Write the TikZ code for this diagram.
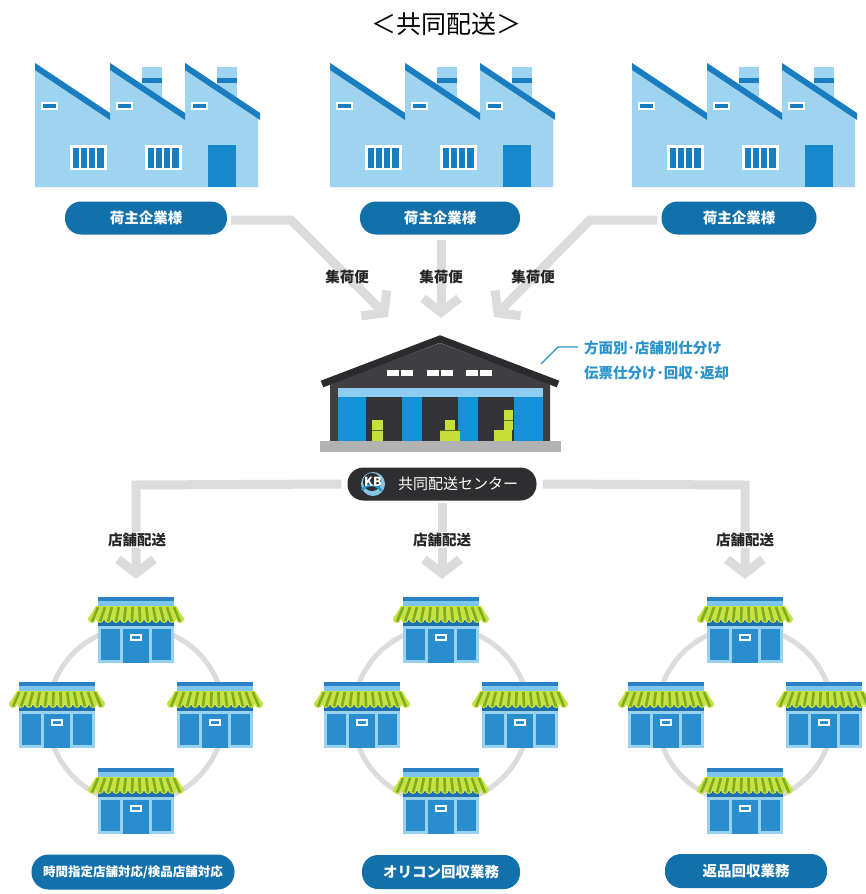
\documentclass[tikz,border=0pt]{standalone}
\usepackage{fontspec}
\setmainfont{Noto Sans CJK JP}
\usetikzlibrary{arrows.meta}

\definecolor{factorylight}{HTML}{9FD4F0}
\definecolor{factorydark}{HTML}{1A7DBF}
\definecolor{factorydoor}{HTML}{1789CB}
\definecolor{pillblue}{HTML}{1271AB}
\definecolor{linegray}{HTML}{DCDCDC}
\definecolor{whroof}{HTML}{2B2B2D}
\definecolor{whbody}{HTML}{3F3F42}
\definecolor{whopen}{HTML}{333335}
\definecolor{whbase}{HTML}{B2B2B2}
\definecolor{whpillar}{HTML}{1391D9}
\definecolor{whband}{HTML}{8DCDF0}
\definecolor{boxgreen}{HTML}{C6DF3A}
\definecolor{calloutblue}{HTML}{2A93CC}
\definecolor{darkpill}{HTML}{2E2E30}
\definecolor{storeroof}{HTML}{2A82C4}
\definecolor{storerooflight}{HTML}{7FC6EE}
\definecolor{awninglight}{HTML}{C8E242}
\definecolor{awningdark}{HTML}{80AC22}
\definecolor{storeband}{HTML}{1E6FAE}
\definecolor{storeframe}{HTML}{98D2F1}
\definecolor{storepanel}{HTML}{2A8DCE}

\tikzset{
  pill/.style={rounded corners=16pt, fill=pillblue, text=white, minimum height=33pt,
    inner sep=0pt, font=\fontsize{14.5}{16}\selectfont\bfseries},
  lbl/.style={text=black!85, inner sep=1pt, font=\fontsize{14.5}{16}\selectfont\bfseries},
  callout/.style={anchor=west, text=calloutblue, inner sep=0pt, font=\fontsize{14.5}{16}\selectfont\bfseries},
  flow/.style={draw=linegray, line width=9pt, line join=miter,
    -{Straight Barb[length=14pt,width=36pt]}},
  ring/.style={draw=linegray, line width=5pt},
  factory/.pic={
    % chimneys behind the roof line
    \foreach \s in {75,150}{
      \fill[factorylight] (\s+32,4) rectangle (\s+52,45);
      \fill[factorydark] (\s+32,15) rectangle (\s+52,20);
    }
    % sawtooth body
    \fill[factorylight] (0,0) -- (75,50) -- (75,0) -- (150,50) -- (150,0) -- (223,50)
      -- (223,124) -- (0,124) -- cycle;
    % roof stripes and small vents
    \foreach \s in {0,75,150}{
      \fill[factorydark] (\s,0) -- (\s+75,50) -- (\s+75,57) -- (\s,7) -- cycle;
      \fill[white] (\s+6,38.5) rectangle (\s+23,46.5);
      \fill[factorydark] (\s+8,40.5) rectangle (\s+21,44.5);
    }
    % windows
    \foreach \w in {35,110}{
      \fill[white] (\w,82) rectangle (\w+37,107);
      \foreach \i in {0,...,3}
        \fill[factorydark] (\w+2.5+\i*8.3,84.5) rectangle ++(6.3,20);
    }
    % door
    \fill[factorydoor] (173,82) rectangle (201,124);
  },
  store/.pic={
    \fill[storeroof] (-38,0) rectangle (38,4);
    \fill[storerooflight] (-38,4) rectangle (38,9);
    \fill[storeband] (-38,23) rectangle (38,29);
    % striped awning with scalloped edge
    \fill[awninglight] (-40,9) -- (40,9) -- (48,22) -- (-48,22) -- cycle;
    \foreach \x in {-44,-36,...,44}
      \fill[awninglight] (\x,22) circle (4);
    \foreach \x in {-44,-36,...,44}
      \draw[awningdark, line width=2.6pt] (\x*0.86,10) -- (\x,24.5);
    \fill[storeframe] (-38,29) rectangle (38,66);
    \fill[storepanel] (-35,32) rectangle (-16,63);
    \fill[storepanel] (16,32) rectangle (35,63);
    \fill[storepanel] (-13,32) rectangle (13,66);
    \fill[white] (-6,37) rectangle (6,44);
    \fill[storepanel] (-4,39) rectangle (4,42);
  },
  cluster/.pic={
    \draw[ring] (0,0) circle (88);
    \pic at (0,-118) {store};
    \pic at (-79,-33) {store};
    \pic at (79,-33) {store};
    \pic at (0,53) {store};
  }
}

\begin{document}
\begin{tikzpicture}[x=1pt, y=-1pt]
\useasboundingbox (0,0) rectangle (865,894);
\fill[white] (0,0) rectangle (865,894);

% title
\node[font=\fontsize{25}{28}\selectfont] (title) at (446,24) {＜共同配送＞};

% shipper factories
\pic at (35,63) {factory};
\pic at (330,63) {factory};
\pic at (632,63) {factory};
\node[pill, minimum width=162pt] (s1) at (146,218) {荷主企業様};
\node[pill, minimum width=160pt] (s2) at (440,218) {荷主企業様};
\node[pill, minimum width=155pt] (s3) at (739,218) {荷主企業様};

% pickup flows into the centre
\coordinate (b1) at (291,220);
\coordinate (t1) at (388,317);
\coordinate (t2) at (441,318);
\coordinate (b3) at (590,220);
\coordinate (t3) at (494,317);
\draw[flow] ([xshift=4pt]s1.east |- b1) -- (b1) -- (t1);
\draw[flow] ([yshift=-5pt]s2.south -| t2) -- (t2);
\draw[flow] ([xshift=-4pt]s3.west |- b3) -- (b3) -- (t3);
\node[lbl] (c1) at (347,277) {集荷便};
\node[lbl] (c2) at (441,277) {集荷便};
\node[lbl] (c3) at (533,277) {集荷便};

% distribution warehouse
\fill[whbody] (330,384) -- (440,343) -- (550,384) -- (550,441) -- (330,441) -- cycle;
\draw[whroof, line width=7pt, line join=miter] (322,384) -- (440,339) -- (558,384);
\foreach \g in {400,440,479}{
  \fill[white] (\g-13,370) rectangle (\g-1,376);
  \fill[white] (\g+1,370) rectangle (\g+13,376);
}
\fill[whband] (338,388) rectangle (543,397);
\fill[whopen] (338,397) rectangle (543,441);
\fill[whpillar] (338,397) rectangle (366,441);
\fill[whpillar] (402,397) rectangle (422,441);
\fill[whpillar] (458,397) rectangle (478,441);
\fill[whpillar] (514,397) rectangle (543,441);
\fill[boxgreen] (372,420) rectangle (383,441);
\fill[boxgreen] (440,430) rectangle (460,441);
\fill[boxgreen] (445,420) rectangle (455,430);
\fill[boxgreen] (494,430) rectangle (512,441);
\fill[boxgreen] (504,410) rectangle (513,430);
\draw[whopen!70!boxgreen, line width=0.6pt] (372,430) -- (383,430) (440,430) -- (460,430) (504,420) -- (513,420);
\fill[whbase] (320,441) rectangle (561,452);

% callout
\coordinate (cw) at (541,364);
\draw[calloutblue, line width=1.2pt] (cw) -- (558,347) -- (578,347);
\node[callout] (n1) at (584,348) {方面別･店舗別仕分け};
\node[callout] (n2) at (584,373) {伝票仕分け･回収･返却};

% centre name plate
\node[rounded corners=16pt, fill=darkpill, minimum width=189pt, minimum height=33pt, inner sep=0pt] (kb) at (442,484) {};
\node[text=white, inner sep=0pt, font=\fontsize{15}{16}\selectfont] (kbname) at (458,484) {共同配送センター};
\fill[calloutblue!55!white] (373,484) circle (12);
\fill[darkpill] (372,482) circle (9);
\draw[calloutblue, line width=2.5pt] (362,490) arc (215:330:11.5);
\node[text=white, inner sep=0pt, font=\fontsize{12.5}{12}\selectfont\bfseries] (kblogo) at (373,482) {KB};

% delivery flows to the stores
\coordinate (d1) at (136,485);
\coordinate (d3) at (745,485);
\coordinate (e1) at (136,579);
\coordinate (e2) at (442,579);
\coordinate (e3) at (745,579);
\draw[flow] ([xshift=-6pt]kb.west) -- (d1) -- (e1);
\draw[flow] ([yshift=-2pt]kb.south -| e2) -- (e2);
\draw[flow] ([xshift=6pt]kb.east) -- (d3) -- (e3);
\node[lbl, fill=white] (r1) at (137,540) {店舗配送};
\node[lbl, fill=white] (r2) at (442,540) {店舗配送};
\node[lbl, fill=white] (r3) at (745,540) {店舗配送};

% store rings
\pic at (136,715) {cluster};
\pic at (441,715) {cluster};
\pic at (745,715) {cluster};

\node[pill, minimum width=203pt, minimum height=35pt, rounded corners=17pt, font=\fontsize{12.5}{14}\selectfont\bfseries] (u1) at (133,872) {時間指定店舗対応/検品店舗対応};
\node[pill, minimum width=158pt, minimum height=34pt] (u2) at (441,872) {オリコン回収業務};
\node[pill, minimum width=162pt, minimum height=34pt] (u3) at (746,871) {返品回収業務};
\end{tikzpicture}
\end{document}
